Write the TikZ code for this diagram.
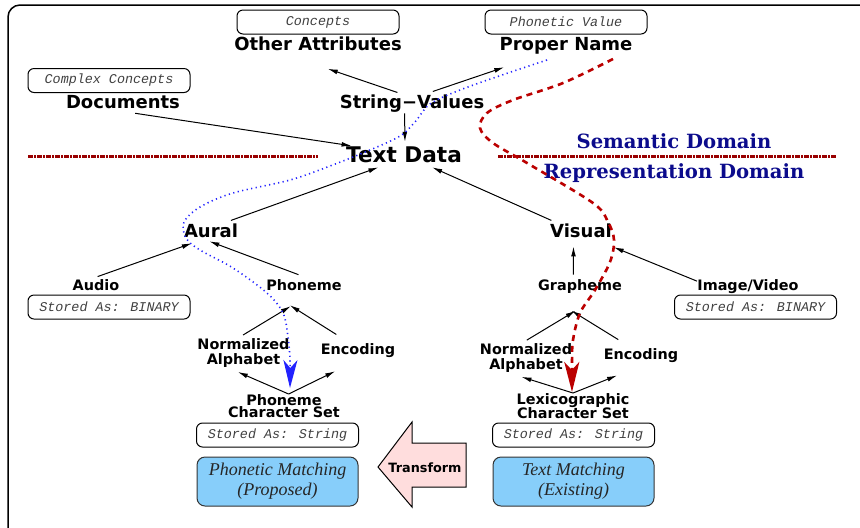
\documentclass[tikz,border=0pt]{standalone}
\usepackage{fontspec}
\usepackage{tikz}
\usetikzlibrary{arrows.meta}
\newfontfamily\lblfont{DejaVu Sans}
\newfontfamily\boxfont{Liberation Mono}
\newfontfamily\domfont{DejaVu Serif}
\newfontfamily\matchfont{Liberation Serif}
\definecolor{domain-red}{HTML}{990000}
\definecolor{domain-blue}{HTML}{0B0B8C}
\definecolor{path-blue}{HTML}{2222FF}
\definecolor{path-red}{HTML}{BB0000}
\definecolor{match-blue}{HTML}{87CEFA}
\definecolor{transform-pink}{HTML}{FFDDDD}
\newcommand{\biglbl}{\lblfont\bfseries\fontsize{9}{10}\selectfont}
\newcommand{\hugelbl}{\lblfont\bfseries\fontsize{10.8}{12}\selectfont}
\newcommand{\medlbl}{\lblfont\bfseries\fontsize{7.2}{7.5}\selectfont}
\newcommand{\tightlbl}[1]{\lblfont\bfseries\fontsize{7.2}{#1}\selectfont\lineskiplimit=-20pt}

\begin{document}
\begin{tikzpicture}[x=0.5pt, y=-0.5pt, >={Latex[length=5pt,width=2.4pt]},
  biglabel/.style={font=\biglbl, inner sep=0pt, anchor=base, text height=6.6pt, text depth=0pt},
  medlabel/.style={font=\medlbl, inner sep=0pt, anchor=base, text height=5.3pt, text depth=0pt},
  twoline/.style={inner sep=0pt, anchor=north, align=center},
  storebox/.style={draw, rounded corners=3pt, line width=0.5pt, minimum width=81pt, minimum height=12pt,
    inner sep=0pt, font=\boxfont\itshape\fontsize{6.7}{8}\selectfont, text=black!75},
  matchbox/.style={draw=black!80, fill=match-blue, line width=0.5pt, rounded corners=4pt,
    minimum width=80.5pt, minimum height=24.5pt, inner sep=0pt, align=center,
    font=\matchfont\itshape\fontsize{9}{10}\selectfont, text=black!85},
  conn/.style={->, line width=0.5pt},
  domline/.style={domain-red, line width=1.5pt, dash pattern=on 2.5pt off 0.5pt on 1pt off 0.5pt},
  domlabel/.style={font=\domfont\bfseries\fontsize{9.8}{11}\selectfont, text=domain-blue, anchor=base, inner sep=0pt},
  phonpath/.style={path-blue, line width=0.8pt, dash pattern=on 0.6pt off 1.7pt,
    -{Stealth[length=14pt,width=7pt,inset=4pt]}},
  textpath/.style={path-red, line width=1.3pt, dash pattern=on 3pt off 2.5pt,
    -{Stealth[length=15pt,width=7.5pt,inset=4pt]}}]

  \useasboundingbox (0,0) rectangle (860,527);
  \begin{scope}
    \clip (0,0) rectangle (860,527);
    \draw[line width=0.75pt, rounded corners=6pt] (8,5) rectangle (900,570);
  \end{scope}

  %% domain split
  \draw[domline] (28,156) -- (318,156);
  \draw[domline] (498,156) -- (837,156);
  \node[domlabel] (sem) at (674,148) {Semantic Domain};
  \node[domlabel] (rep) at (674,178) {Representation Domain};

  %% semantic side
  \node[storebox] (concepts) at (318,22)   {Concepts};
  \node[storebox] (phval)    at (566,22)   {Phonetic Value};
  \node[storebox] (cplx)     at (109,80.5) {Complex Concepts};
  \node[biglabel] (oattr) at (318,50)  {Other Attributes};
  \node[biglabel] (pname) at (566,50)  {Proper Name};
  \node[biglabel] (docs)  at (123,108) {Documents};
  \node[biglabel] (strv)  at (412,108) {String−Values};
  \node[biglabel, font=\hugelbl, text height=7.9pt] (tdata) at (404,162) {Text Data};

  %% aural side
  \node[biglabel] (aural) at (211,237) {Aural};
  \node[medlabel] (audio) at (96,290)  {Audio};
  \node[medlabel] (phon)  at (304,290) {Phoneme};
  \node[storebox] (binA)  at (109,307) {Stored As: BINARY};
  \node[twoline, font=\medlbl] (nalph1) at (243.5,338) {Normalized\\Alphabet};
  \node[medlabel] (enc1)  at (358,354) {Encoding};
  \node[twoline, font=\tightlbl{6pt}] (pcs) at (284,394) {Phoneme\\Character Set};
  \node[storebox] (strP)  at (277.5,435) {Stored As: String};
  \node[matchbox] (pmatch) at (277.5,481.5) {Phonetic Matching\\(Proposed)};

  %% visual side
  \node[biglabel] (visual) at (581,237) {Visual};
  \node[medlabel] (graph)  at (580,290) {Grapheme};
  \node[medlabel] (imgv)   at (748,290) {Image/Video};
  \node[storebox] (binI)   at (755.5,307) {Stored As: BINARY};
  \node[twoline, font=\medlbl] (nalph2) at (526,343) {Normalized\\Alphabet};
  \node[medlabel] (enc2)   at (641,359) {Encoding};
  \node[twoline, font=\tightlbl{7.2pt}] (lcs) at (573,393) {Lexicographic\\Character Set};
  \node[storebox] (strL)   at (573.5,435) {Stored As: String};
  \node[matchbox] (tmatch) at (573.5,481.5) {Text Matching\\(Existing)};

  %% transform arrow
  \draw[fill=transform-pink, line width=0.5pt]
    (378,467) -- (412,422) -- (412,443) -- (466,443) -- (466,487) -- (412,487) -- (412,507) -- cycle;
  \node[font=\lblfont\bfseries\fontsize{6.4}{7}\selectfont, anchor=base, inner sep=0pt] (transf) at (425,472) {Transform};

  %% hierarchy
  \draw[conn, shorten <=3pt, shorten >=28.5pt] (strv.142) -- (oattr.189);
  \draw[conn, shorten <=4.6pt, shorten >=26.2pt] (strv.30) -- (pname.210);
  \draw[conn, shorten <=2.5pt, shorten >=2pt] (strv.223) -- (tdata.83);
  \draw[conn, shorten <=16.4pt] (docs.199) -- (tdata.171);
  \draw[conn, shorten <=4.4pt, shorten >=7.3pt] (aural.31) -- (tdata.215.5);
  \draw[conn, shorten <=3.7pt, shorten >=6.1pt] (visual.163) -- (tdata.334.5);

  \draw[conn, shorten <=3.7pt, shorten >=8.8pt] (audio.133) -- (aural.250);
  \draw[conn, shorten <=6.2pt, shorten >=5.6pt] (phon.43) -- (aural.210);
  \draw[conn, shorten <=2.9pt, shorten >=15.2pt] (nalph1.110) -- (phon.336);
  \draw[conn, shorten <=8pt, shorten >=14.2pt] (enc1.145) -- (phon.188);
  \draw[conn, shorten >=5.3pt] (pcs.69) -- (nalph1.224);
  \draw[conn, shorten >=19.2pt] (pcs.69) -- (enc1.334);

  \draw[conn, shorten <=2.25pt, shorten >=4.5pt] (graph.139) -- (visual.223);
  \draw[conn, shorten >=13pt] (imgv.176) -- (visual.321);
  \draw[conn, shorten <=2.8pt, shorten >=19.7pt] (nalph2.105) -- (graph.349);
  \draw[conn, shorten <=8pt, shorten >=19.7pt] (enc2.148) -- (graph.187);
  \draw[conn, shorten >=6.9pt] (lcs.north) -- (nalph2.220);
  \draw[conn, shorten >=21.8pt] (lcs.north) -- (enc2.341);

  %% matching paths
  \draw[phonpath] plot[smooth, tension=0.55] coordinates {(547,60) (505,74) (460,90) (430,104) (415,122)
    (400,136) (370,150) (330,166) (290,180) (233,193) (200,207) (184,222) (186,238) (200,250)
    (233,268) (267,293) (283,313) (288,337) (290,360) (290,388)};
  \draw[textpath] plot[smooth, tension=0.55] coordinates {(613,59) (563,83) (513,100) (487,113) (480,128)
    (493,143) (527,163) (593,203) (608,222) (614,240) (610,262) (595,290) (580,313) (573,340)
    (572,362) (572,392)};
\end{tikzpicture}
\end{document}
